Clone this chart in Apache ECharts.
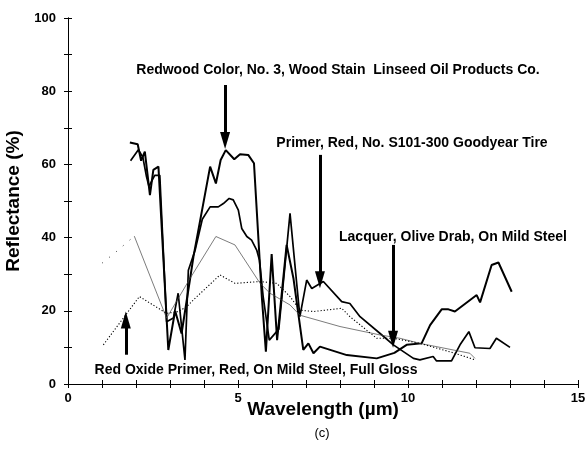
<!DOCTYPE html>
<html><head><meta charset="utf-8">
<script src="https://cdn.jsdelivr.net/npm/echarts@6/dist/echarts.min.js"></script>
<style>html,body{margin:0;padding:0;background:#fff}#c{width:587px;height:455px}</style>
</head><body><div id="c"></div>
<script>
// Wavelength (µm), Reflectance (%)
const redwood = [[1.82,66],[2.05,65.5],[2.15,61],[2.26,63.5],[2.41,51.6],[2.51,58.5],[2.66,59.4],[2.95,9.3],[3.15,20],[3.34,13.8],[3.6,29.3],[3.69,34.8],[4.18,59.4],[4.35,54.8],[4.49,61.2],[4.64,63.9],[4.89,61.4],[5.06,62.8],[5.3,62.6],[5.47,60.3],[5.7,23.9],[5.82,8.8],[5.99,35.5],[6.15,12],[6.43,38],[6.63,28.9],[6.92,9.3],[7.07,11.1],[7.22,8.4],[7.41,10.2],[8.2,7.9],[9.08,7],[9.6,8.5],[9.96,10.7],[10.4,11.1],[10.65,16.1],[10.99,20.4],[11.19,20.4],[11.38,19.8],[12.02,24.3],[12.12,22.3],[12.46,32.5],[12.66,33.2],[13.05,25.2]];
const primer = [[1.84,61],[2.07,64],[2.2,62],[2.31,56.6],[2.38,54],[2.55,57],[2.7,57],[2.9,17],[3.1,18],[3.24,24.8],[3.44,6.6],[3.54,31.1],[3.74,36.6],[3.95,45],[4.18,48.4],[4.42,48.4],[4.57,49.3],[4.74,50.7],[4.86,50.3],[5.01,47.5],[5.11,42.5],[5.26,40.3],[5.4,39.3],[5.55,36.6],[5.63,33.9],[5.74,23.9],[5.92,12],[6.2,15],[6.53,46.6],[6.7,30],[6.82,18.4],[7.02,28.4],[7.17,26.1],[7.51,28],[8.05,22.5],[8.29,22],[8.59,18.4],[9.18,13.8],[9.57,10.7],[10.16,7],[10.35,6.6],[10.74,7.5],[10.84,6.3],[11.28,6.3],[11.53,10.7],[11.79,14.3],[11.97,9.9],[12.41,9.7],[12.6,12.5],[13.0,10]];
const lacquerStart = [[1.0,33],[1.4,36],[1.95,40.4]];
const lacquer = [[1.95,40.4],[2.9,18],[3.6,29],[4.35,40.3],[4.91,38],[5.65,27.5],[5.94,24.8],[6.53,21.6],[6.82,18.8],[8.0,15.7],[9.18,13.4],[9.76,12.5],[10.35,11.1],[11.82,8.4],[11.97,7]];
const redOxide = [[1.04,10.7],[2.1,23.9],[2.9,19.3],[3.24,19.8],[3.49,21.1],[3.69,23],[4.47,29.8],[4.91,27.5],[5.65,28],[6.14,27.5],[6.53,23.9],[6.82,20.2],[7.22,19.8],[8.05,20.7],[8.29,18.4],[9.08,12.5],[9.57,12.5],[10.35,11.1],[11.38,8.4],[11.97,6.6]];
// Annotation arrows: [x, yFrom, yTo]
const arrows = [[4.62,81.7,66.5],[7.41,62.6,28.5],[9.56,38,12.2],[1.7,8,17.5]];
const labels = ['Redwood Color, No. 3, Wood Stain  Linseed Oil Products Co.','Primer, Red, No. S101-300 Goodyear Tire','Lacquer, Olive Drab, On Mild Steel','Red Oxide Primer, Red, On Mild Steel, Full Gloss'];
const xTicks = [0,5,10,15];
const yTicks = [0,20,40,60,80,100];

const chart = echarts.init(document.getElementById('c'));
const F = 'Liberation Sans, Arial, sans-serif';
const axisCommon = {
  axisLine:{show:true,lineStyle:{color:'#000',width:1}},
  axisTick:{show:true,inside:true,length:4,lineStyle:{color:'#000'}},
  splitLine:{show:false}
};
chart.setOption({
  animation:false,
  grid:{left:68,right:9,top:18,bottom:71,containLabel:false,outerBoundsMode:'none'},
  xAxis:[
    Object.assign({type:'value',min:0,max:15,interval:1,
      axisLabel:{margin:8,fontFamily:F,fontWeight:'bold',fontSize:13,color:'#000',
        formatter:v=>xTicks.includes(v)?String(v):''},
      name:'Wavelength (\u00b5m)',nameLocation:'middle',nameGap:26,nameMoveOverlap:false,
      nameTextStyle:{fontFamily:F,fontWeight:'bold',fontSize:19,color:'#000',verticalAlign:'middle'}},axisCommon),
    Object.assign({type:'value',min:0,max:15,interval:1,position:'top',axisLabel:{show:false}},axisCommon)
  ],
  yAxis:[
    Object.assign({type:'value',min:0,max:100,interval:10,
      axisLabel:{margin:12,fontFamily:F,fontWeight:'bold',fontSize:13,color:'#000',
        formatter:v=>yTicks.includes(v)?String(v):''},
      name:'Reflectance (%)',nameLocation:'middle',nameGap:34,
      nameTextStyle:{fontFamily:F,fontWeight:'bold',fontSize:19,color:'#000'}},axisCommon),
    Object.assign({type:'value',min:0,max:100,interval:10,position:'right',axisLabel:{show:false}},axisCommon)
  ],
  graphic:[
    {type:'text',x:322,y:433,style:{text:'(c)',font:'13px '+F,fill:'#000',align:'center',verticalAlign:'middle'}},
    {type:'text',x:338,y:70,style:{text:labels[0],font:'bold 14px '+F,fill:'#000',align:'center',verticalAlign:'middle'}},
    {type:'text',x:412,y:143,style:{text:labels[1],font:'bold 14px '+F,fill:'#000',align:'center',verticalAlign:'middle'}},
    {type:'text',x:453,y:237,style:{text:labels[2],font:'bold 14px '+F,fill:'#000',align:'center',verticalAlign:'middle'}},
    {type:'text',x:256,y:370,style:{text:labels[3],font:'bold 14px '+F,fill:'#000',align:'center',verticalAlign:'middle'}}
  ],
  series:[
    {type:'line',name:'Redwood',data:redwood,symbol:'none',lineStyle:{color:'#000',width:2}},
    {type:'line',name:'Primer',data:primer,symbol:'none',lineStyle:{color:'#000',width:1.7}},
    {type:'line',name:'LacquerStart',data:lacquerStart,symbol:'none',lineStyle:{color:'#333',width:1,type:[1,8]}},
    {type:'line',name:'Lacquer',data:lacquer,symbol:'none',lineStyle:{color:'#444',width:0.7}},
    {type:'line',name:'RedOxide',data:redOxide,symbol:'none',lineStyle:{color:'#000',width:1.1,type:[1.2,2]}},
    {type:'line',name:'arrows',data:[],symbol:'none',
      markLine:{silent:true,symbol:['none','triangle'],symbolSize:[10,17],label:{show:false},
        lineStyle:{color:'#000',width:3,type:'solid'},
        data:arrows.map(a=>[{coord:[a[0],a[1]]},{coord:[a[0],a[2]]}])}}
  ]
});
</script></body></html>
